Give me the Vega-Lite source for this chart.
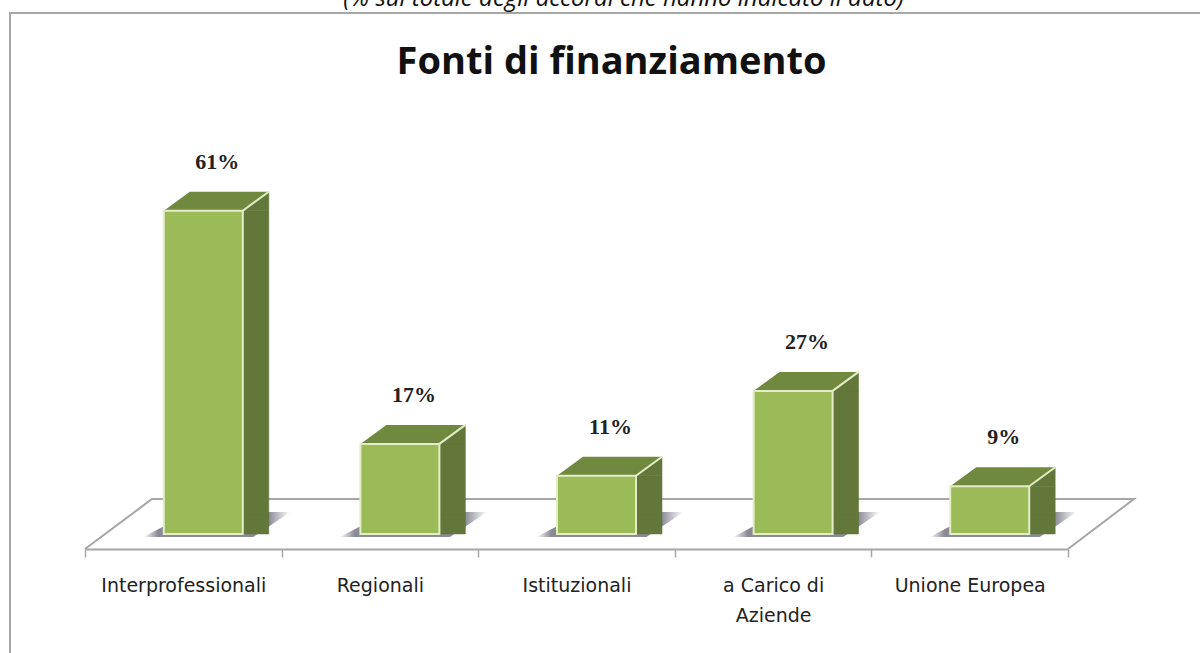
{"$schema":"https://vega.github.io/schema/vega-lite/v6.json","autosize":"none","padding":{"left":10,"top":13,"right":0,"bottom":0},"width":1200,"height":657,"background":"white","view":{"stroke":"#a6a6a6","strokeWidth":2,"fill":"white"},"data":{"values":[{"fonte":"Interprofessionali","percentuale":61},{"fonte":"Regionali","percentuale":17},{"fonte":"Istituzionali","percentuale":11},{"fonte":"a Carico di Aziende","percentuale":27},{"fonte":"Unione Europea","percentuale":9}]},"encoding":{"x":{"field":"fonte","type":"nominal","scale":{"type":"band","domain":["Interprofessionali","Regionali","Istituzionali","a Carico di Aziende","Unione Europea"],"range":[75,1058],"paddingInner":0,"paddingOuter":0},"axis":{"offset":-121,"domainColor":"#a6a6a6","domainWidth":2,"tickColor":"#a6a6a6","tickWidth":1.5,"tickSize":8,"tickBand":"extent","labelAngle":0,"labelFont":"DejaVu Sans","labelFontSize":19,"labelColor":"#222222","labelPadding":19,"labelLimit":220,"labelBaseline":"top","labelLineHeight":30,"labelExpr":"datum.label == 'a Carico di Aziende' ? ['a Carico di','Aziende'] : datum.label","title":"(% sul totale  degli accordi che hanno indicato  il dato)","titleFont":"Open Sans","titleFontStyle":"italic","titleFontWeight":"normal","titleFontSize":24,"titleColor":"#111111","titleAnchor":"start","titleAlign":"center","titleBaseline":"alphabetic","titleX":613,"titleY":-544}},"y":{"field":"percentuale","type":"quantitative","scale":{"domain":[-2.83,98.3],"range":[536,0],"nice":false,"zero":false},"axis":{"domain":false,"ticks":false,"labels":false,"grid":false,"title":"Fonti di finanziamento","titleFont":"Open Sans","titleFontWeight":"bold","titleFontSize":38,"titleColor":"#111111","titleAngle":0,"titleAlign":"center","titleBaseline":"alphabetic","titleAnchor":"start","titleX":601,"titleY":60}}},"layer":[{"transform":[{"filter":"datum.fonte == 'Istituzionali'"}],"mark":{"type":"point","shape":"M-491.5 15L-424.5 -35L557.5 -35L491.5 15","size":4,"filled":false,"fill":"transparent","stroke":"#a6a6a6","strokeWidth":2,"opacity":1},"encoding":{"y":{"datum":0,"type":"quantitative"}}},{"mark":{"type":"point","shape":"M-60 3L-39 -8L39 -8L65 -22L87 -22L50 3Z","size":4,"filled":true,"opacity":0.9,"xOffset":20,"color":{"gradient":"linear","x1":0,"x2":1,"y1":0,"y2":0,"stops":[{"offset":0,"color":"#ffffff"},{"offset":0.1,"color":"#7d7d8a"},{"offset":0.85,"color":"#7d7d8a"},{"offset":1,"color":"#ffffff"}]}},"encoding":{"y":{"datum":0,"type":"quantitative"}}},{"mark":{"type":"bar","width":26,"xOffset":72.5,"x2Offset":72.5,"y2Offset":-19,"color":"#63773a","stroke":"#63773a","strokeWidth":0.5}},{"mark":{"type":"point","shape":"M39.5 0L65.5 -19L39.5 -19Z","size":4,"filled":true,"opacity":1,"xOffset":20,"color":"#63773a","stroke":"#63773a","strokeWidth":0.5},"encoding":{"y":{"datum":0,"type":"quantitative"}}},{"mark":{"type":"point","shape":"M39.5 0L65.5 -19L65.5 0Z","size":4,"filled":true,"opacity":1,"xOffset":20,"color":"#63773a","stroke":"#63773a","strokeWidth":0.5}},{"mark":{"type":"point","shape":"M-39.5 0L-13.5 -19L65.5 -19L39.5 0Z","size":4,"filled":true,"opacity":1,"xOffset":20,"color":"#70893e"}},{"mark":{"type":"point","shape":"M39.5 0L65.5 -19","size":4,"filled":false,"fill":"transparent","opacity":1,"xOffset":20,"stroke":"#e4edc8","strokeWidth":2}},{"mark":{"type":"bar","width":79,"xOffset":20,"x2Offset":20,"color":"#9bbb59","stroke":"#e4edc8","strokeWidth":2}},{"mark":{"type":"text","dx":34,"dy":-49,"baseline":"middle","align":"center","font":"Liberation Serif","fontWeight":"bold","fontSize":22,"color":"#222222"},"transform":[{"calculate":"datum.percentuale + '%'","as":"etichetta"}],"encoding":{"text":{"field":"etichetta","type":"nominal"}}}]}
